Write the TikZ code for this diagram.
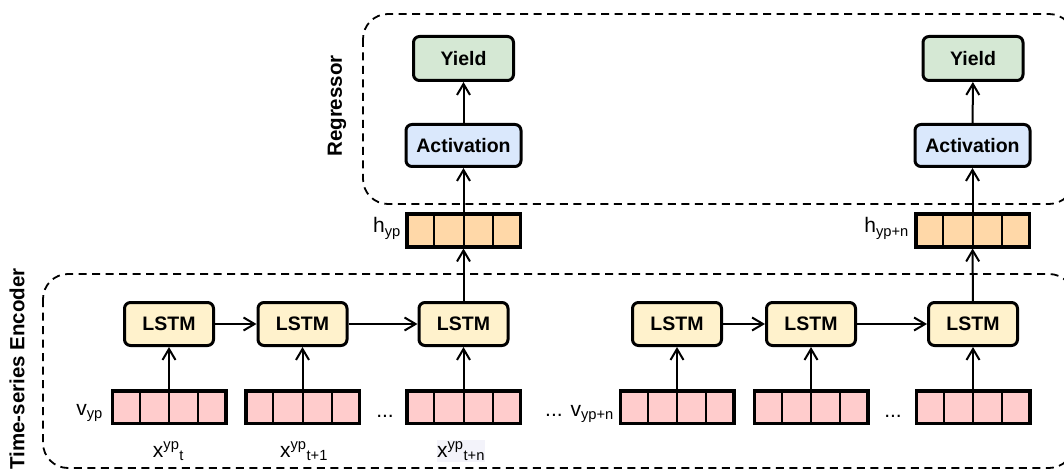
\documentclass[tikz,border=0pt]{standalone}
\usepackage{fontspec}
\setmainfont{Liberation Sans}
\usetikzlibrary{arrows.meta,calc}

\definecolor{lstmfill}{HTML}{FFF2CC}
\definecolor{actfill}{HTML}{DAE8FC}
\definecolor{yieldfill}{HTML}{D5E8D4}
\definecolor{inpfill}{HTML}{FFCCCC}
\definecolor{hidfill}{HTML}{FFD8A8}
\definecolor{labelbg}{HTML}{F3F3FA}

\tikzset{
  block/.style={draw, line width=3pt, rounded corners=6pt, inner sep=0pt,
    font=\fontsize{19.5}{22}\selectfont\bfseries},
  lstm/.style={block, fill=lstmfill, minimum width=89pt, minimum height=43pt},
  act/.style={block, fill=actfill, minimum width=115pt, minimum height=42pt},
  yieldbox/.style={block, fill=yieldfill, minimum width=100pt, minimum height=44pt},
  vecbox/.style={draw, line width=3.5pt, inner sep=0pt, minimum width=113.5pt, minimum height=32.5pt},
  cellline/.style={line width=2pt},
  flow/.style={line width=2pt, -{Straight Barb[length=11pt,width=13pt,line width=2pt]}},
  group/.style={draw, dash pattern=on 8pt off 5.5pt, line width=1.8pt, rounded corners=25pt},
  lbl/.style={font=\fontsize{21}{24}\selectfont, inner sep=0pt},
  grouptitle/.style={font=\fontsize{20.5}{24}\selectfont\bfseries, rotate=90, inner sep=0pt},
}

% a vector drawn as a strip of four cells
\newcommand\cellvec[4]{%
  \node[vecbox, fill=#4] (#1) at (#2,#3) {};
  \foreach \k in {1,2,3}
    \draw[cellline] ($(#1.north west)!\k/4!(#1.north east)$) -- ($(#1.south west)!\k/4!(#1.south east)$);
}

\begin{document}
\begin{tikzpicture}[x=1pt, y=-1pt]
  \useasboundingbox (0,0) rectangle (1064,470);
  \clip (0,0) rectangle (1064,470);

  % group frames
  \draw[group] (363,14) rectangle (1074,204);
  \draw[group] (43,274) rectangle (1074,468);
  \node[grouptitle] (tRegressor) at (337,106) {Regressor};
  \node[grouptitle] (tEncoder) at (17,369) {Time-series Encoder};

  % regressor heads
  \node[yieldbox] (y1) at (463.5,58.5) {Yield};
  \node[yieldbox] (y2) at (973,58.5) {Yield};
  \node[act] (a1) at (463.5,145.5) {Activation};
  \node[act] (a2) at (972.5,145.5) {Activation};

  % hidden states
  \cellvec{h1}{463.5}{230.5}{hidfill}
  \cellvec{h2}{972.5}{230.5}{hidfill}
  \node[lbl, anchor=base east] (lh1) at (401,233) {h\textsubscript{yp}};
  \node[lbl, anchor=base east] (lh2) at (909,233) {h\textsubscript{yp+n}};

  % LSTM cells
  \foreach \n/\x in {1/169, 2/302.5, 3/463.5, 4/677, 5/811, 6/973} {
    \node[lstm] (l\n) at (\x,324) {LSTM};
  }
  % input vectors
  \cellvec{v1}{169}{407}{inpfill}
  \cellvec{v2}{302.5}{407}{inpfill}
  \cellvec{v3}{463.5}{407}{inpfill}
  \cellvec{v4}{677}{407}{inpfill}
  \cellvec{v5}{811}{407}{inpfill}
  \cellvec{v6}{973}{407}{inpfill}

  % input labels
  \node[lbl, anchor=base east] (lv1) at (103,415) {v\textsubscript{yp}};
  \node[lbl, anchor=base] (d1) at (385,417) {...};
  \node[lbl, anchor=base east] (lv2) at (614,416) {... v\textsubscript{yp+n}};
  \node[lbl, anchor=base] (d2) at (893,417) {...};
  \node[lbl, anchor=base] (x1) at (168.5,457) {x\textsuperscript{yp}\textsubscript{t}};
  \node[lbl, anchor=base] (x2) at (304,457) {x\textsuperscript{yp}\textsubscript{t+1}};
  \node[lbl, anchor=base, fill=labelbg, inner ysep=2pt] (x3) at (461,457) {x\textsuperscript{yp}\textsubscript{t+n}};

  % connections
  \foreach \n in {1,...,6} \draw[flow] (v\n) -- (l\n);
  \draw[flow] (l1) -- (l2);
  \draw[flow] (l2) -- (l3);
  \draw[flow] (l4) -- (l5);
  \draw[flow] (l5) -- (l6);
  \draw[flow] (l3) -- (h1);
  \draw[flow] (l6) -- (h2);
  \draw[flow] (h1) -- (a1);
  \draw[flow] (h2) -- (a2);
  \draw[flow] (a1) -- (y1);
  \draw[flow] (a2) -- (y2);
\end{tikzpicture}
\end{document}
